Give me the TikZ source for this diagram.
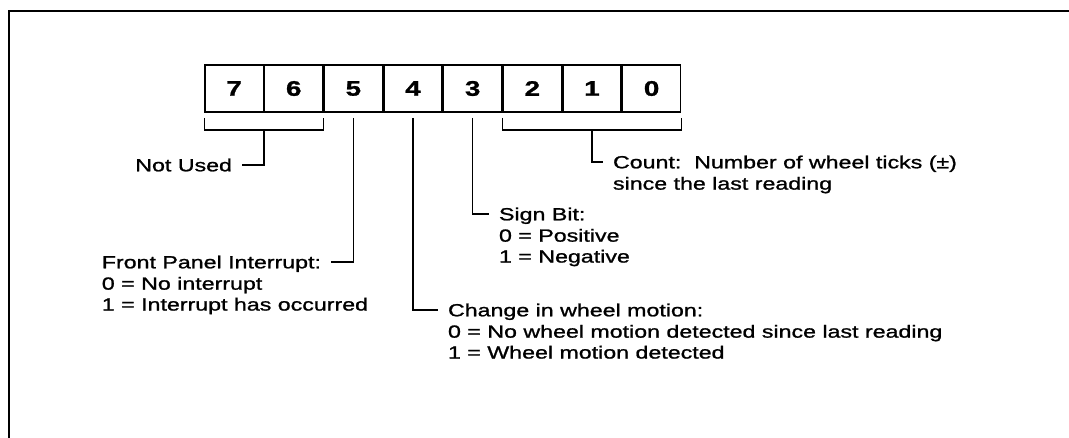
\documentclass[tikz,border=0pt]{standalone}
\usepackage{fontspec}
\setmainfont{Liberation Sans}[FakeStretch=1.32, FakeBold=1.2]
\usepackage{tikz}
\usetikzlibrary{positioning}

\begin{document}
\begin{tikzpicture}[
    x=0.02cm, y=-0.02cm,
    bitcell/.style={draw, line width=0.8pt, minimum width=1.165cm, minimum height=0.94cm,
                    inner sep=0pt, font=\fontsize{12}{14}\selectfont\bfseries},
    lbl/.style={inner xsep=5.5pt, inner ysep=0pt, text height=7.2pt, text depth=0pt,
                font=\fontsize{10}{11.9}\selectfont},
    vals/.style={inner xsep=5.5pt, inner ysep=0pt, align=left, anchor=north west,
                 font=\fontsize{10}{11.9}\selectfont},
    wire/.style={line width=0.85pt},
    frame/.style={line width=0.9pt},
]
\useasboundingbox (0,0) rectangle (1069,438);

% outer frame (open to the right and bottom)
\draw[frame] (9,438) -- (9,11) -- (1069,11);

% register bits
\node[bitcell] (b7) at (234.1,88.5) {7};
\node[bitcell, right=0pt of b7] (b6) {6};
\node[bitcell, right=0pt of b6] (b5) {5};
\node[bitcell, right=0pt of b5] (b4) {4};
\node[bitcell, right=0pt of b4] (b3) {3};
\node[bitcell, right=0pt of b3] (b2) {2};
\node[bitcell, right=0pt of b2] (b1) {1};
\node[bitcell, right=0pt of b1] (b0) {0};

% labels
\node[lbl, anchor=east] (unused) at (242,165) {Not Used};

\node[lbl, anchor=east] (fpi) at (331,262) {Front Panel Interrupt:};
\node[vals] (fpiv) at ([yshift=-4.7pt]fpi.base west) {0 = No interrupt\\1 = Interrupt has occurred};

\node[lbl, anchor=west] (sign) at (489,214) {Sign Bit:};
\node[vals] (signv) at ([yshift=-4.7pt]sign.base west) {0 = Positive\\1 = Negative};

\node[lbl, anchor=west] (change) at (438,310) {Change in wheel motion:};
\node[vals] (changev) at ([yshift=-4.7pt]change.base west)
    {0 = No wheel motion detected since last reading\\1 = Wheel motion detected};

\node[lbl, anchor=west] (count) at (603,162) {Count:\ \ Number of wheel ticks (±)};
\node[vals] (countv) at ([yshift=-4.7pt]count.base west) {since the last reading};

% bits 7-6
\draw[wire] ([yshift=-3pt]b7.south west) -- ++(0,12) coordinate (hibar) -| ([yshift=-3pt]b6.south east);
\draw[wire] (hibar -| b7.south east) |- (unused.east);

% single bits
\draw[wire] ([yshift=-3pt]b5.south) |- (fpi.east);
\draw[wire] ([yshift=-3pt]b4.south) |- (change.west);
\draw[wire] ([yshift=-3pt]b3.south) |- (sign.west);

% bits 2-0
\draw[wire] ([yshift=-3pt]b2.south west) -- ++(0,12) coordinate (lobar) -| ([yshift=-3pt]b0.south east);
\draw[wire] (lobar -| b1.south) |- (count.west);
\end{tikzpicture}
\end{document}
